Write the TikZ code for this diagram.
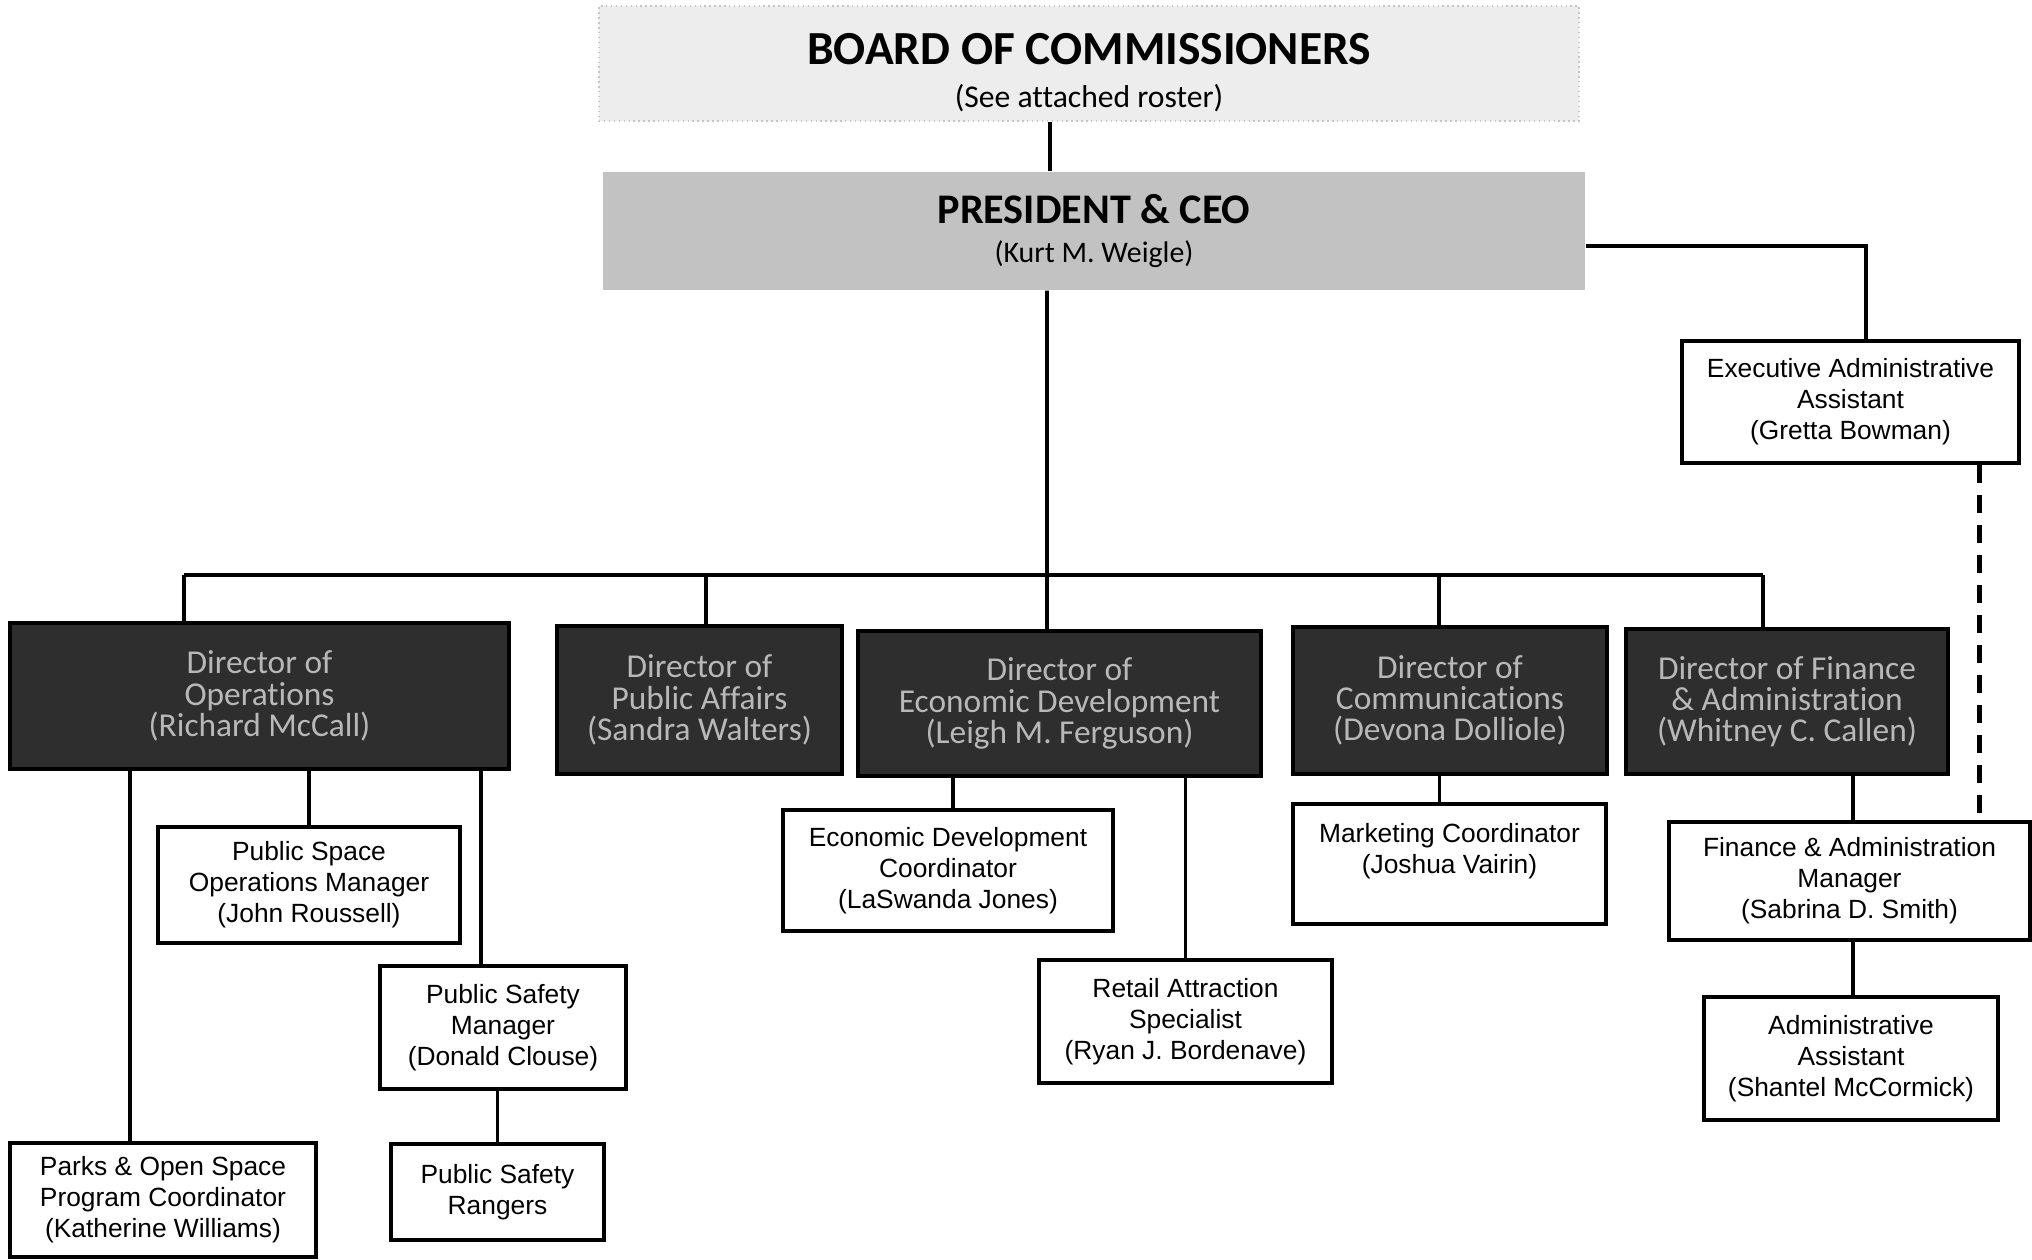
\documentclass[tikz,border=0pt]{standalone}
\usepackage{fontspec}
\setmainfont{Liberation Sans}
\newfontfamily\calibri[Ligatures=NoCommon]{Carlito}
\usetikzlibrary{calc, positioning}
\tikzset{
  wbox/.style   ={draw, line width=1.2pt, fill=white, align=center, inner sep=1pt, font=\fontsize{7.5}{8.8}\selectfont},
  dbox/.style   ={draw, line width=1.4pt, fill=black!82, text=white!72!black, align=center, inner sep=1pt, font=\calibri\fontsize{9.5}{8.9}\selectfont},
  topbox/.style ={align=center, inner sep=1pt, font=\calibri},
  link/.style   ={line width=1.1pt},
  dashlink/.style={line width=1.3pt, dash pattern=on 1.8mm off 1.2mm},
}

\begin{document}
\begin{tikzpicture}[x=0.1mm, y=-0.1mm]
  \useasboundingbox (0,0) rectangle (2032,1260);

  % top of the chart
  \node[topbox, fill=gray!14, draw=gray!45, densely dotted, minimum width=98mm, minimum height=11.5mm] (board) at (1089,63.5)
    {\rule{0pt}{5mm}{\fontsize{13.5}{15}\selectfont\bfseries BOARD OF COMMISSIONERS}\\[0.1mm]{\fontsize{9}{10}\selectfont (See attached roster)}};
  \node[topbox, fill=gray!48, minimum width=98.2mm, minimum height=11.8mm] (pres) at (1094,231)
    {{\fontsize{12}{14}\selectfont\bfseries PRESIDENT \& CEO}\\[-0.3mm]{\fontsize{8.5}{10}\selectfont (Kurt M. Weigle)}};
  \node[wbox, minimum width=33.7mm, minimum height=12.2mm] (exec) at (1850.5,402)
    {Executive Administrative\\Assistant\\(Gretta Bowman)};

  % directors
  \node[dbox, minimum width=49.9mm, minimum height=14.6mm] (ops)  at (259.5,696)  {Director of\\Operations\\(Richard McCall)};
  \node[dbox, minimum width=28.5mm, minimum height=14.8mm] (pa)   at (699.5,700)  {Director of\\Public Affairs\\(Sandra Walters)};
  \node[dbox, minimum width=40.3mm, minimum height=14.5mm] (econ) at (1059.5,703.5) {Director of\\Economic Development\\(Leigh M. Ferguson)};
  \node[dbox, minimum width=31.4mm, minimum height=14.7mm] (comm) at (1450,700.5) {Director of\\Communications\\(Devona Dolliole)};
  \node[dbox, minimum width=32.2mm, minimum height=14.5mm] (fin)  at (1787,701.5) {Director of Finance\\\& Administration\\(Whitney C. Callen)};

  % staff
  \node[wbox, minimum width=30.2mm, minimum height=11.6mm] (psom)    at (309,885)     {Public Space\\Operations Manager\\(John Roussell)};
  \node[wbox, minimum width=30.6mm, minimum height=11.4mm] (parks)   at (163,1200)    {Parks \& Open Space\\Program Coordinator\\(Katherine Williams)};
  \node[wbox, minimum width=24.6mm, minimum height=12.3mm] (psm)     at (503,1027.5)  {Public Safety\\Manager\\(Donald Clouse)};
  \node[wbox, minimum width=21.3mm, minimum height=9.6mm]  (rangers) at (497.5,1192)  {Public Safety\\Rangers};
  \node[wbox, minimum width=33mm,   minimum height=12.1mm] (edc)     at (948,870.5)   {Economic Development\\Coordinator\\(LaSwanda Jones)};
  \node[wbox, minimum width=29.3mm, minimum height=12.3mm] (retail)  at (1185.5,1021.5) {Retail Attraction\\Specialist\\(Ryan J. Bordenave)};
  \node[wbox, minimum width=31.3mm, minimum height=12mm, text depth=3.2mm] (mkt) at (1449.5,864) {Marketing Coordinator\\(Joshua Vairin)};
  \node[wbox, minimum width=36.1mm, minimum height=11.8mm] (fam)     at (1849.5,881)  {Finance \& Administration\\Manager\\(Sabrina D. Smith)};
  \node[wbox, minimum width=29.4mm, minimum height=12.3mm] (aa)      at (1851,1058.5) {Administrative\\Assistant\\(Shantel McCormick)};

  % bus under the president
  \coordinate (b-ops)  at (184,575);
  \coordinate (b-pa)   at (706,575);
  \coordinate (b-econ) at (1047,575);
  \coordinate (b-comm) at (1439,575);
  \coordinate (b-fin)  at (1763,575);

  \draw[link] ([xshift=-3.9mm]board.south) -- ([xshift=-3.9mm]board.south |- pres.north);
  \draw[link] ([xshift=-4.7mm]pres.south) -- (b-econ);
  \draw[link] (b-ops) -- (b-fin);
  \foreach \n in {ops,pa,econ,comm,fin}
    \draw[link] (b-\n) -- (b-\n |- \n.north);
  \draw[link] ([yshift=-1.5mm]pres.east) -| ([xshift=1.55mm]exec.north);
  \draw[dashlink] ([xshift=12.9mm]exec.south) -- ([xshift=12.9mm]exec.south |- fam.north);

  % under the directors
  \draw[link] ([xshift=-3.3mm]parks.north) -- ([xshift=-3.3mm]parks.north |- ops.south);
  \draw[link] (psom.north) -- (psom.north |- ops.south);
  \draw[link] ([xshift=-2.2mm]psm.north) -- ([xshift=-2.2mm]psm.north |- ops.south);
  \draw[link] (rangers.north) -- (rangers.north |- psm.south);
  \draw[link] ([xshift=0.5mm]edc.north) -- ([xshift=0.5mm]edc.north |- econ.south);
  \draw[link] (retail.north) -- (retail.north |- econ.south);
  \draw[link] ([xshift=-1mm]mkt.north) -- ([xshift=-1mm]mkt.north |- comm.south);
  \draw[link] ([xshift=0.35mm]fam.north) -- ([xshift=0.35mm]fam.north |- fin.south);
  \draw[link] ([xshift=0.2mm]aa.north) -- ([xshift=0.2mm]aa.north |- fam.south);
\end{tikzpicture}
\end{document}
